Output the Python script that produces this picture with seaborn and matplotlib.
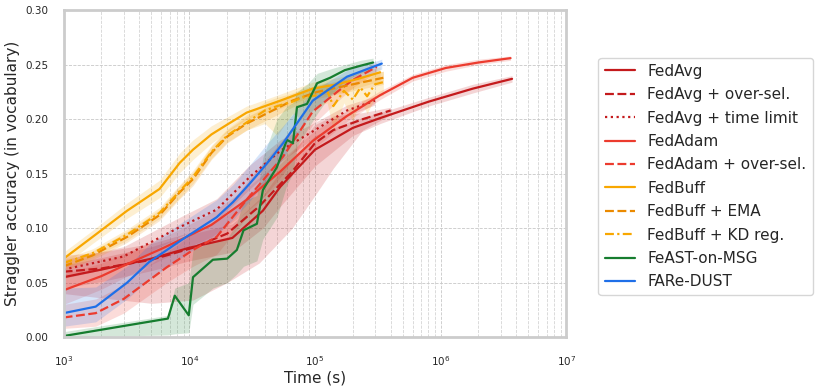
import numpy as np
import pandas as pd
import matplotlib
matplotlib.use("Agg")
import matplotlib.pyplot as plt
import seaborn as sns

# ---------------- data ----------------
methods = ["FedAvg", "FedAvg + over-sel.", "FedAvg + time limit", "FedAdam",
           "FedAdam + over-sel.", "FedBuff", "FedBuff + EMA", "FedBuff + KD reg.",
           "FeAST-on-MSG", "FARe-DUST"]

fedavg_t = [1e3, 2e3, 5e3, 1e4, 2.2e4, 3.85e4, 5.3e4, 1e5, 2e5, 3.3e5, 8e5, 1.8e6, 3.7e6]
fedavg_y = [0.055, 0.062, 0.072, 0.082, 0.091, 0.116, 0.138, 0.172, 0.192, 0.201, 0.216, 0.228, 0.237]
fedavg_lo = [0.045, 0.051, 0.061, 0.070, 0.078, 0.100, 0.120, 0.157, 0.185, 0.196, 0.212, 0.224, 0.234]
fedavg_hi = [0.066, 0.073, 0.083, 0.094, 0.104, 0.130, 0.152, 0.185, 0.199, 0.206, 0.220, 0.232, 0.240]

fedavg_os_t = [1e3, 2e3, 5e3, 1.07e4, 2e4, 3.6e4, 6.6e4, 1e5, 1.4e5, 2.4e5, 4e5]
fedavg_os_y = [0.060, 0.063, 0.071, 0.082, 0.095, 0.120, 0.152, 0.178, 0.190, 0.200, 0.208]
fedavg_os_lo = [0.040, 0.036, 0.031, 0.034, 0.050, 0.068, 0.100, 0.130, 0.155, 0.190, 0.204]
fedavg_os_hi = [0.075, 0.078, 0.086, 0.097, 0.112, 0.140, 0.170, 0.195, 0.203, 0.206, 0.211]

fedavg_tl_t = [1e3, 3e3, 8.4e3, 1.65e4, 3.03e4, 5.3e4, 1e5, 1.8e5, 3e5]
fedavg_tl_y = [0.062, 0.074, 0.101, 0.117, 0.147, 0.171, 0.190, 0.208, 0.217]
fedavg_tl_lo = [0.054, 0.066, 0.092, 0.107, 0.136, 0.161, 0.183, 0.203, 0.213]
fedavg_tl_hi = [0.071, 0.083, 0.110, 0.127, 0.158, 0.181, 0.197, 0.213, 0.221]

fedadam_t = [1e3, 2e3, 3.2e3, 6e3, 8.4e3, 1.5e4, 2.86e4, 5.3e4, 9.6e4, 1.8e5, 3.3e5, 6e5, 1.1e6, 2e6, 3.6e6]
fedadam_y = [0.043, 0.056, 0.067, 0.081, 0.089, 0.103, 0.126, 0.152, 0.180, 0.203, 0.222, 0.238, 0.247, 0.252, 0.256]
fedadam_lo = [0.030, 0.044, 0.056, 0.071, 0.079, 0.092, 0.115, 0.142, 0.172, 0.198, 0.218, 0.235, 0.244, 0.250, 0.254]
fedadam_hi = [0.058, 0.068, 0.078, 0.091, 0.099, 0.114, 0.137, 0.162, 0.188, 0.208, 0.226, 0.241, 0.250, 0.255, 0.258]

fedadam_os_t = [1e3, 1.8e3, 3e3, 6.6e3, 1.07e4, 1.65e4, 3e4, 5.6e4, 9.6e4, 1.5e5, 2e5, 3.1e5]
fedadam_os_y = [0.018, 0.022, 0.035, 0.064, 0.080, 0.092, 0.129, 0.166, 0.207, 0.225, 0.236, 0.248]
fedadam_os_lo = [0.008, 0.010, 0.022, 0.050, 0.065, 0.076, 0.113, 0.150, 0.195, 0.216, 0.229, 0.243]
fedadam_os_hi = [0.030, 0.035, 0.048, 0.078, 0.095, 0.108, 0.145, 0.182, 0.218, 0.233, 0.242, 0.252]

fedbuff_t = [1e3, 1.7e3, 3.2e3, 5.8e3, 8.4e3, 1.07e4, 1.5e4, 2e4, 2.86e4, 5.3e4, 9.6e4, 1.5e5, 2.2e5, 3.3e5]
fedbuff_y = [0.072, 0.092, 0.116, 0.136, 0.160, 0.172, 0.186, 0.195, 0.206, 0.217, 0.228, 0.232, 0.237, 0.243]
fedbuff_lo = [0.066, 0.086, 0.109, 0.128, 0.151, 0.163, 0.178, 0.188, 0.200, 0.210, 0.221, 0.224, 0.229, 0.235]
fedbuff_hi = [0.078, 0.098, 0.123, 0.144, 0.169, 0.181, 0.194, 0.202, 0.212, 0.223, 0.234, 0.238, 0.243, 0.248]

fedbuff_ema_t = [1e3, 1.7e3, 3.2e3, 5.8e3, 8.4e3, 1.07e4, 1.5e4, 2e4, 2.86e4, 6.6e4, 1.04e5, 2e5, 3.5e5]
fedbuff_ema_y = [0.065, 0.075, 0.092, 0.112, 0.133, 0.145, 0.169, 0.184, 0.196, 0.217, 0.225, 0.232, 0.238]
fedbuff_ema_lo = [0.061, 0.071, 0.087, 0.107, 0.127, 0.139, 0.163, 0.178, 0.190, 0.211, 0.219, 0.226, 0.232]
fedbuff_ema_hi = [0.069, 0.079, 0.097, 0.117, 0.139, 0.151, 0.175, 0.190, 0.202, 0.223, 0.231, 0.238, 0.244]

fedbuff_kd_t = [1e3, 1.7e3, 3.2e3, 5.8e3, 8.4e3, 1.07e4, 1.5e4, 2e4, 2.86e4, 4e4, 5e4, 6.6e4, 8e4,
                1.04e5, 1.25e5, 1.4e5, 1.7e5, 2e5, 2.3e5, 2.6e5, 3e5, 3.5e5]
fedbuff_kd_y = [0.068, 0.077, 0.094, 0.114, 0.134, 0.147, 0.170, 0.185, 0.197, 0.208, 0.212, 0.216, 0.220,
                0.222, 0.226, 0.212, 0.226, 0.218, 0.229, 0.221, 0.232, 0.234]
fedbuff_kd_lo = [0.064, 0.073, 0.089, 0.109, 0.128, 0.141, 0.164, 0.179, 0.190, 0.196, 0.185, 0.205, 0.200,
                 0.212, 0.215, 0.190, 0.215, 0.198, 0.218, 0.205, 0.220, 0.222]
fedbuff_kd_hi = [0.072, 0.081, 0.099, 0.119, 0.140, 0.153, 0.176, 0.191, 0.204, 0.216, 0.220, 0.224, 0.228,
                 0.231, 0.234, 0.226, 0.236, 0.232, 0.240, 0.236, 0.242, 0.244]

feast_t = [1e3, 6.75e3, 7.66e3, 9.9e3, 1.07e4, 1.54e4, 2.0e4, 2.39e4, 2.7e4, 3.45e4, 3.85e4,
           4.98e4, 5.98e4, 6.68e4, 7.19e4, 8.64e4, 1.04e5, 1.32e5, 1.73e5, 2.3e5, 2.9e5]
feast_y = [0.001, 0.017, 0.038, 0.020, 0.055, 0.071, 0.072, 0.080, 0.098, 0.104, 0.135,
           0.156, 0.181, 0.178, 0.211, 0.214, 0.233, 0.238, 0.245, 0.249, 0.252]
feast_lo = [0.000, 0.002, 0.003, 0.004, 0.030, 0.045, 0.050, 0.058, 0.065, 0.070, 0.090,
            0.110, 0.140, 0.150, 0.175, 0.190, 0.205, 0.222, 0.235, 0.242, 0.246]
feast_hi = [0.005, 0.020, 0.045, 0.050, 0.080, 0.088, 0.090, 0.105, 0.125, 0.130, 0.165,
            0.200, 0.212, 0.215, 0.225, 0.232, 0.242, 0.246, 0.250, 0.254, 0.256]

faredust_t = [1e3, 1.8e3, 3.2e3, 4.8e3, 8.9e3, 1.65e4, 2.23e4, 3.03e4, 4.12e4, 5.58e4, 9.6e4, 1.8e5, 3.4e5]
faredust_y = [0.022, 0.028, 0.050, 0.069, 0.090, 0.110, 0.124, 0.141, 0.159, 0.178, 0.217, 0.239, 0.251]
faredust_lo = [0.010, 0.014, 0.035, 0.053, 0.074, 0.094, 0.108, 0.125, 0.143, 0.164, 0.208, 0.233, 0.246]
faredust_hi = [0.045, 0.046, 0.065, 0.085, 0.106, 0.126, 0.140, 0.158, 0.177, 0.194, 0.226, 0.245, 0.255]

series = {
    "FedAvg": (fedavg_t, fedavg_y, fedavg_lo, fedavg_hi),
    "FedAvg + over-sel.": (fedavg_os_t, fedavg_os_y, fedavg_os_lo, fedavg_os_hi),
    "FedAvg + time limit": (fedavg_tl_t, fedavg_tl_y, fedavg_tl_lo, fedavg_tl_hi),
    "FedAdam": (fedadam_t, fedadam_y, fedadam_lo, fedadam_hi),
    "FedAdam + over-sel.": (fedadam_os_t, fedadam_os_y, fedadam_os_lo, fedadam_os_hi),
    "FedBuff": (fedbuff_t, fedbuff_y, fedbuff_lo, fedbuff_hi),
    "FedBuff + EMA": (fedbuff_ema_t, fedbuff_ema_y, fedbuff_ema_lo, fedbuff_ema_hi),
    "FedBuff + KD reg.": (fedbuff_kd_t, fedbuff_kd_y, fedbuff_kd_lo, fedbuff_kd_hi),
    "FeAST-on-MSG": (feast_t, feast_y, feast_lo, feast_hi),
    "FARe-DUST": (faredust_t, faredust_y, faredust_lo, faredust_hi),
}

colors = ["#c41a1c", "#c41a1c", "#c41a1c", "#ec3b2e", "#ec3b2e",
          "#f8a700", "#eb8a00", "#f8a700", "#167d2f", "#1f6fe8"]
dash_styles = ["", (4, 1.6), (1, 1.6), "", (4, 1.6), "", (4, 1.6), (4, 1.5, 1, 1.5), "", ""]

y_ticks = [0.00, 0.05, 0.10, 0.15, 0.20, 0.25, 0.30]

# ---------------- build long table ----------------
rows = []
for m in methods:
    t, y, lo, hi = series[m]
    for ti, yi in zip(t, y):
        rows.append({"time": ti, "acc": yi, "method": m})
df = pd.DataFrame(rows)

sns.set_theme(style="whitegrid")
plt.rcParams["font.family"] = ["DejaVu Sans"]

fig = plt.figure(figsize=(8.16, 3.92), dpi=100)
ax = fig.add_axes([0.078, 0.140, 0.616, 0.834])

palette = dict(zip(methods, colors))
dashes = dict(zip(methods, dash_styles))

for m in methods:
    t, y, lo, hi = series[m]
    ax.fill_between(t, lo, hi, color=palette[m], alpha=0.18, linewidth=0)

sns.lineplot(data=df, x="time", y="acc", hue="method", style="method",
             hue_order=methods, style_order=methods, palette=palette,
             dashes=dashes, estimator=None, sort=False, linewidth=1.6, ax=ax)

ax.set_xscale("log")
ax.set_xlim(1e3, 1e7)
ax.set_ylim(0, 0.30)
ax.set_yticks(y_ticks)
ax.set_yticklabels([f"{v:.2f}" for v in y_ticks])
ax.tick_params(axis="y", labelsize=7.5, pad=11, length=0)
ax.tick_params(axis="x", labelsize=7.5, pad=12, length=0)
ax.set_xlabel("Time (s)", fontsize=11, labelpad=2)
ax.set_ylabel("Straggler accuracy (in vocabulary)", fontsize=11, labelpad=4)

ax.grid(False)
ax.grid(which="major", axis="both", linestyle="--", linewidth=0.6, color="#c8c8c8")
ax.grid(which="minor", axis="x", linestyle="--", linewidth=0.6, color="#d4d4d4")
for s in ax.spines.values():
    s.set_color("#cccccc")
    s.set_linewidth(2)

handles, labels = ax.get_legend_handles_labels()
ax.legend(handles, labels, loc="upper left", bbox_to_anchor=(1.064, 0.855),
          fontsize=11, frameon=True, edgecolor="#cccccc", borderaxespad=0,
          labelspacing=0.55)

fig.savefig("out.png", dpi=100)
